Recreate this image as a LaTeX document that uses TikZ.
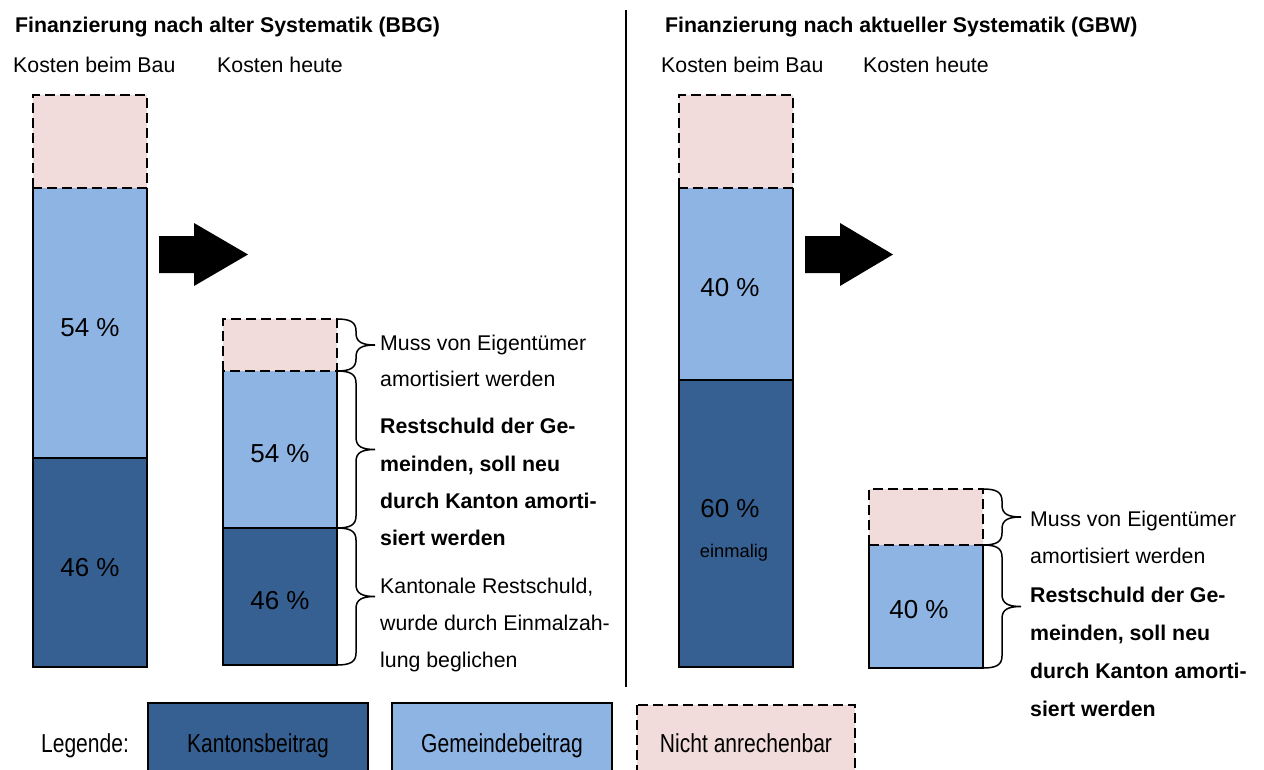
\documentclass[tikz,border=0pt]{standalone}
\usepackage{fontspec}
\setmainfont{Liberation Sans}
\usetikzlibrary{calc}
\definecolor{kanton}{RGB}{55,96,146}
\definecolor{gemeinde}{RGB}{142,180,227}
\definecolor{nicht}{RGB}{242,220,219}
\newcommand{\mybrc}[2]{%
  \coordinate (bm) at ($(#1)!0.5!(#2)$);
  \draw[brc] (#1) .. controls ($(#1)+(13,0)$) and ($(#1)+(19,3)$) .. ($(#1)+(19,12)$)
    -- ($(bm)+(19,-12)$) .. controls ($(bm)+(19,-3)$) and ($(bm)+(25,0)$) .. ($(bm)+(38,0)$)
    .. controls ($(bm)+(25,0)$) and ($(bm)+(19,3)$) .. ($(bm)+(19,12)$)
    -- ($(#2)+(19,-12)$) .. controls ($(#2)+(19,-3)$) and ($(#2)+(13,0)$) .. (#2);}
\begin{document}
\begin{tikzpicture}[x=1pt,y=-1pt,
  seg/.style={rectangle,inner sep=0pt,outer sep=0pt,draw=none,minimum width=114pt},
  solidline/.style={line width=1.8pt,line join=miter},
  dashline/.style={line width=1.8pt,dash pattern=on 10pt off 5pt},
  lbl/.style={inner sep=0pt,anchor=base west,font=\fontsize{21.3}{25}\selectfont},
  blbl/.style={inner sep=0pt,anchor=base west,font=\fontsize{21.3}{25}\selectfont\bfseries},
  pct/.style={inner sep=0pt,anchor=base,font=\fontsize{26}{30}\selectfont},
  small/.style={inner sep=0pt,anchor=base,font=\fontsize{18.3}{22}\selectfont},
  legtxt/.style={inner sep=0pt,anchor=base,font=\fontsize{26}{30}\selectfont},
  brc/.style={line width=1.5pt},
  arr/.style={fill=black}]
\clip (0,0) rectangle (1264,769);
\fill[white] (0,0) rectangle (1264,769);

% titles
\node[blbl] (t1) at (15,32) {Finanzierung nach alter Systematik (BBG)};
\node[blbl] (t2) at (665,32) {Finanzierung nach aktueller Systematik (GBW)};
\node[lbl] (h1) at (13,72) {Kosten beim Bau};
\node[lbl] (h2) at (217,72) {Kosten heute};
\node[lbl] (h3) at (661,72) {Kosten beim Bau};
\node[lbl] (h4) at (863,72) {Kosten heute};

% separator
\draw[line width=1.8pt] (626,10) coordinate (s1) -- (626,687) coordinate (s2);

% bar 1
\node[seg,fill=nicht,minimum height=93pt] (p1) at (90,141.5) {};
\node[seg,fill=gemeinde,minimum height=270pt] (g1) at (90,323) {};
\node[seg,fill=kanton,minimum height=209pt] (k1) at (90,562.5) {};
\draw[solidline] (g1.north west) -- (k1.south west) -- (k1.south east) -- (g1.north east);
\draw[solidline] (k1.north west) -- (k1.north east);
\draw[dashline] (p1.south west) rectangle (p1.north east);
\node[pct] (l1a) at (90,336) {54 \%};
\node[pct] (l1b) at (90,576) {46 \%};

% arrow 1
\fill[arr] (159,236) -- (194,236) -- (194,223) -- (248,254.5) -- (194,286) -- (194,273) -- (159,273) -- cycle;

% bar 2
\node[seg,fill=nicht,minimum height=52pt] (p2) at (280,345) {};
\node[seg,fill=gemeinde,minimum height=157pt] (g2) at (280,449.5) {};
\node[seg,fill=kanton,minimum height=137pt] (k2) at (280,596.5) {};
\draw[solidline] (g2.north west) -- (k2.south west) -- (k2.south east) -- (g2.north east);
\draw[solidline] (k2.north west) -- (k2.north east);
\draw[dashline] (p2.south west) rectangle (p2.north east);
\node[pct] (l2a) at (280,462) {54 \%};
\node[pct] (l2b) at (280,609) {46 \%};

% braces bar 2
\mybrc{p2.north east}{p2.south east}
\mybrc{g2.north east}{g2.south east}
\mybrc{k2.north east}{k2.south east}

% texts bar 2
\node[lbl] (a1) at (380,350) {Muss von Eigentümer};
\node[lbl] (a2) at (380,386) {amortisiert werden};
\node[blbl] (a3) at (380,433) {Restschuld der Ge-};
\node[blbl] (a4) at (380,471) {meinden, soll neu};
\node[blbl] (a5) at (380,508) {durch Kanton amorti-};
\node[blbl] (a6) at (380,545) {siert werden};
\node[lbl] (a7) at (380,593) {Kantonale Restschuld,};
\node[lbl] (a8) at (380,630) {wurde durch Einmalzah-};
\node[lbl] (a9) at (380,667) {lung beglichen};

% bar 3
\node[seg,fill=nicht,minimum height=93pt] (p3) at (736,141.5) {};
\node[seg,fill=gemeinde,minimum height=192pt] (g3) at (736,284) {};
\node[seg,fill=kanton,minimum height=287pt] (k3) at (736,523.5) {};
\draw[solidline] (g3.north west) -- (k3.south west) -- (k3.south east) -- (g3.north east);
\draw[solidline] (k3.north west) -- (k3.north east);
\draw[dashline] (p3.south west) rectangle (p3.north east);
\node[pct] (l3a) at (730,296) {40 \%};
\node[pct] (l3b) at (730,517) {60 \%};
\node[small] (l3c) at (734,557) {einmalig};

% arrow 2
\fill[arr] (805,236) -- (840,236) -- (840,223) -- (893,254.5) -- (840,286) -- (840,273) -- (805,273) -- cycle;

% bar 4
\node[seg,fill=nicht,minimum height=56pt] (p4) at (926,517) {};
\node[seg,fill=gemeinde,minimum height=123pt] (g4) at (926,606.5) {};
\draw[solidline] (g4.north west) -- (g4.south west) -- (g4.south east) -- (g4.north east);
\draw[dashline] (p4.south west) rectangle (p4.north east);
\node[pct] (l4a) at (919,618) {40 \%};

% braces bar 4
\mybrc{p4.north east}{p4.south east}
\mybrc{g4.north east}{g4.south east}

% texts bar 4
\node[lbl] (b1) at (1030,526) {Muss von Eigentümer};
\node[lbl] (b2) at (1030,563) {amortisiert werden};
\node[blbl] (b3) at (1030,602) {Restschuld der Ge-};
\node[blbl] (b4) at (1030,640) {meinden, soll neu};
\node[blbl] (b5) at (1030,678) {durch Kanton amorti-};
\node[blbl] (b6) at (1030,716) {siert werden};

% legend
\node[legtxt] (lg) at (85,752) {\scalebox{0.81}[1]{Legende:}};
\draw[solidline,fill=kanton] (148,703) rectangle (368,800);
\node[legtxt] (lk) at (258,752) {\scalebox{0.81}[1]{Kantonsbeitrag}};
\draw[solidline,fill=gemeinde] (392,703) rectangle (612,800);
\node[legtxt] (lgm) at (502,752) {\scalebox{0.81}[1]{Gemeindebeitrag}};
\draw[dashline,fill=nicht] (637,705) rectangle (855,800);
\node[legtxt] (ln) at (746,752) {\scalebox{0.81}[1]{Nicht anrechenbar}};
\end{tikzpicture}
\end{document}
